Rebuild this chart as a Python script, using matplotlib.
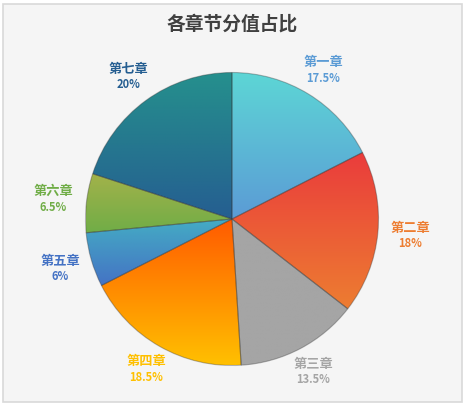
import numpy as np
import matplotlib
matplotlib.use("Agg")
import matplotlib.pyplot as plt
from matplotlib.colors import to_rgb
from matplotlib.patches import Rectangle

plt.rcParams['font.family'] = ['Noto Sans CJK SC', 'DejaVu Sans']

chapters = ["第一章", "第二章", "第三章", "第四章", "第五章", "第六章", "第七章"]
scores = [17.5, 18, 13.5, 18.5, 6, 6.5, 20]
pct_labels = ["17.5%", "18%", "13.5%", "18.5%", "6%", "6.5%", "20%"]
top_colors = ["#5dd6d6", "#ea3c3c", "#a5a5a5", "#ff5a00", "#44acc4", "#a3b24a", "#25908d"]
bottom_colors = ["#5b9bd5", "#ed7d31", "#a5a5a5", "#ffc000", "#4472c4", "#70ad47", "#255e91"]
label_colors = ["#5b9bd5", "#ed7d31", "#a5a5a5", "#ffc000", "#4472c4", "#70ad47", "#255e91"]

W, H = 465, 405
cx, cy, R = 232, 186, 146.5

fig = plt.figure(figsize=(W / 100, H / 100), dpi=100)
fig.patch.set_facecolor("white")
fig.patches.append(Rectangle((2.5 / W, 3.5 / H), 459.5 / W, 398 / H, transform=fig.transFigure,
                             facecolor="#f5f5f5", edgecolor="#d9d9d9", linewidth=1.2, zorder=-10))

ax = fig.add_axes([0, 0, 1, 1])
ax.patch.set_visible(False)

wedges, _ = ax.pie(scores, startangle=90, counterclock=False, radius=1,
                   wedgeprops=dict(linewidth=0.8, edgecolor=(0.2, 0.2, 0.2, 0.35)))

for w, c1, c2 in zip(wedges, top_colors, bottom_colors):
    ext = w.get_path().get_extents()
    t = np.linspace(0, 1, 256)[:, None]
    a, b = np.array(to_rgb(c1)), np.array(to_rgb(c2))
    grad = (a * (1 - t) + b * t)[:, None, :]
    img = ax.imshow(grad, extent=[ext.x0, ext.x1, ext.y0, ext.y1], origin="upper",
                    aspect="auto", zorder=w.get_zorder() - 0.1, interpolation="bilinear")
    img.set_clip_path(w)
    w.set_facecolor("none")

ax.set_aspect("auto")
ax.set_xlim(-cx / R, (W - cx) / R)
ax.set_ylim(-cy / R, (H - cy) / R)
ax.axis("off")

dists = [1.19, 1.22, 1.18, 1.18, 1.22, 1.23, 1.2]
for w, name, pct, col, d in zip(wedges, chapters, pct_labels, label_colors, dists):
    ang = np.deg2rad((w.theta1 + w.theta2) / 2)
    x, y = d * np.cos(ang), d * np.sin(ang)
    ax.text(x, y + 0.055, name, ha="center", va="center", fontsize=9.5,
            fontweight="bold", color=col)
    ax.text(x, y - 0.055, pct, ha="center", va="center", fontsize=8,
            fontweight="bold", color=col)

fig.text(232 / W, 1 - 24 / H, "各章节分值占比", ha="center", va="center",
         fontsize=13.5, fontweight="bold", color="#404040")

fig.savefig("out.png", dpi=100, facecolor=fig.get_facecolor())
